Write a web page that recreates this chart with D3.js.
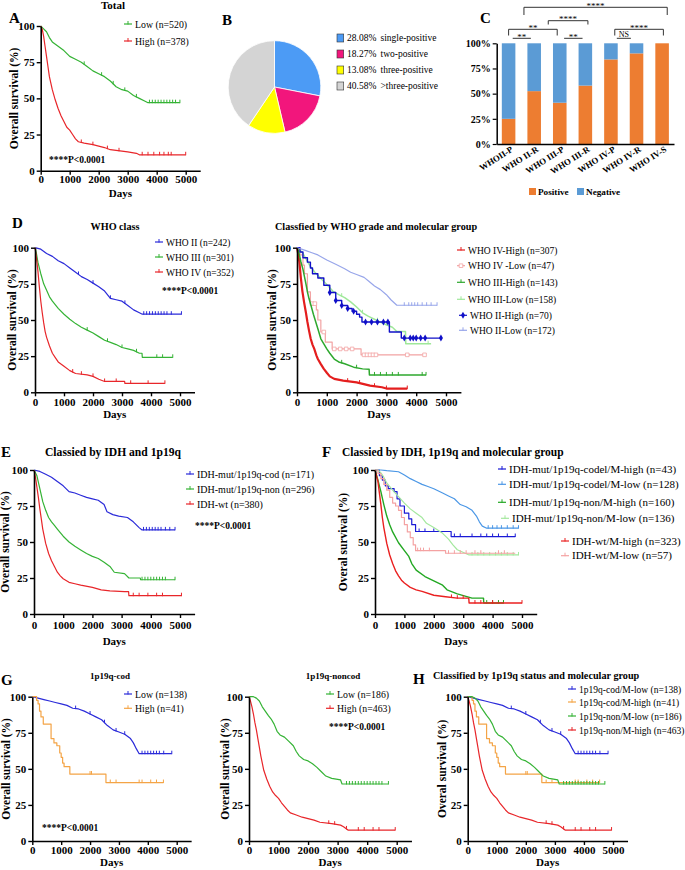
<!DOCTYPE html>
<html><head><meta charset="utf-8">
<script src="https://cdn.jsdelivr.net/npm/d3@7/dist/d3.min.js"></script>
<style>
html,body{margin:0;padding:0;background:#fff;}
svg{display:block;}
text{font-family:"Liberation Serif","Times New Roman",Times,serif;}
</style></head><body>
<svg id="fig" width="685" height="870" xmlns="http://www.w3.org/2000/svg"></svg>
<script>
// ================= DATA =================
const dayTicks=[0,1000,2000,3000,4000,5000];
const survTicks=[0,25,50,75,100];

// ---- A: Total ----
const A_low=[[0,100],[100,98],[200,96],[300,92],[400,89],[600,86],[800,83],[1000,79],[1200,77],[1400,75],[1600,72],[1800,69],[2000,67],[2200,65],[2400,62],[2600,58],[2800,56],[3000,55],[3200,52],[3400,50],[3600,48],[3700,47],[4800,47]];
const A_high=[[0,100],[50,98],[100,93],[150,86],[200,79],[250,72],[300,65],[400,56],[500,49],[600,43],[700,38],[800,34],[900,30],[1000,28],[1100,25],[1200,22],[1300,20],[1500,19],[1800,18],[2000,17],[2200,16],[2400,14.5],[2600,14],[3000,13],[3300,12],[3400,11],[5000,11]];
const A_low_cens=[1500,2100,2500,2900,3300,3750,3850,3950,4050,4150,4250,4350,4450,4550,4650,4800];
const A_high_cens=[1400,1800,2300,2700,3500,3700,3900,4100,4250,4400,4500,5000];

// ---- B: pie ----
const pieNames=['single-positive','two-positive','three-positive','>three-positive'];
const pieValues=[28.08,18.27,13.08,40.58];

// ---- C: stacked bars ----
const barCats=['WHOII-P','WHO II-R','WHO III-P','WHO III-R','WHO IV-P','WHO IV-R','WHO IV-S'];
const barPositive=[25,52.5,41,58,84,90,100];
const barNegative=[75,47.5,59,42,16,10,0];
const barTicks=[0,25,50,75,100];
const C_brackets=[
  {from:0.6,to:6.2,label:'****',row:0,drop:true},
  {from:1.55,to:3.1,label:'****',row:1,drop:true},
  {from:0,to:1.9,label:'**',row:2,drop:true},
  {from:4.15,to:6.05,label:'****',row:2,drop:true},
  {from:0.16,to:0.87,label:'**',row:3,drop:false},
  {from:2.17,to:2.89,label:'**',row:3,drop:false},
  {from:4.23,to:4.78,label:'NS',row:3,drop:false}
];

// ---- D left: WHO class ----
const D_II=[[0,100],[200,99],[400,96],[600,94],[800,91],[1000,89],[1200,86],[1400,83],[1600,80],[1800,78],[2000,75.5],[2200,73],[2400,70],[2600,65],[2800,64],[3000,63],[3200,60],[3400,57],[3600,55],[3700,54],[5050,54]];
const D_III=[[0,100],[50,96],[100,90],[200,82],[300,75],[400,70.5],[500,66],[600,63],[800,58],[1000,54],[1200,50.5],[1400,47.5],[1600,45],[1800,43],[2000,41],[2200,38.5],[2400,36],[2600,34.5],[2800,33],[3000,31],[3200,30],[3400,29],[3600,27],[3690,27],[3700,24.2],[4750,24.2]];
const D_IV=[[0,100],[50,93],[100,84],[150,73],[200,63],[250,55],[300,48],[350,42],[400,38],[500,32],[600,27],[700,24],[800,21],[1000,18],[1200,15],[1400,13],[1800,12],[2000,11],[2200,9],[2400,7.5],[3090,7.5],[3100,6.2],[4480,6.2]];
const D_II_cens=[1500,2000,2600,3100,3750,3850,3950,4050,4150,4250,4350,4450,4550,4700,5050];
const D_III_cens=[1800,2500,3000,3500,4200,4400,4750];
const D_IV_cens=[1300,1600,2000,2400,2800,3300,3900,4480];

// ---- D right: WHO grade x molecular group ----
const DR_IVH=[[0,100],[40,96],[80,90],[130,79],[180,70],[240,62],[300,55],[350,48.6],[400,43],[460,37],[520,33],[580,30],[650,25.5],[700,23],[800,19.5],[900,16.2],[1000,13.5],[1100,11],[1250,9.3],[1550,8.1],[2000,6.9],[2450,4.6],[2850,3.5],[3000,2.6],[3700,2.6]];
const DR_IVL=[[0,100],[100,95],[200,88],[250,82],[350,69.4],[450,61.3],[650,57],[700,50],[800,41.7],[950,34.7],[1180,30],[2150,25.9],[4280,25.9]];
const DR_IIIH=[[0,100],[60,97],[130,90.3],[200,85],[250,80],[300,75],[350,69.4],[400,65],[470,60],[550,54],[630,48.6],[700,44],[800,37],[900,33.5],[1000,30],[1100,27],[1250,23],[1400,21],[1600,19.7],[1900,17.4],[2200,16.2],[2420,16],[2430,12],[4330,12]];
const DR_IIIL=[[0,100],[100,98.5],[200,96],[350,90.5],[450,87],[600,83],[800,78.7],[1000,74.5],[1200,70],[1400,67.5],[1600,65.5],[1800,62.5],[2000,59],[2200,55],[2400,52.5],[2600,50.5],[2900,47.5],[3200,45],[3350,42],[3640,42],[3650,33.6],[4500,33.6]];
const DR_IIH=[[0,100],[100,97],[200,93],[350,90],[450,86],[520,82],[700,79],[900,74],[1100,69],[1300,63.5],[1500,60],[1700,58],[1850,56],[2000,54],[2100,52],[2180,48.6],[3100,41.7],[3500,37.5],[4830,37.5]];
const DR_IIL=[[0,100],[150,99],[300,98],[500,96.5],[700,95],[1000,91.5],[1300,88.5],[1600,85.5],[1800,83],[2000,81.5],[2250,79.5],[2400,77],[2600,73.5],[2800,71],[3000,67.5],[3150,64],[3350,60.2],[4700,60.2]];
const DR_IVH_cens=[1700,2100,2600,3000,3700];
const DR_IVL_cens=[500,600,900,1250,1450,1650,1850,2250,2350,2450,2550,2650,3700,4280];
const DR_IIIH_cens=[1500,2000,2600,2800,3000,3200,3400,4200,4330];
const DR_IIIL_cens=[1500,2200,2700,3000,4400];
const DR_IIH_cens=[1100,1300,1500,1700,1900,2300,2500,2700,2900,3050,3600,3800,3900,4000,4150,4300,4830];
const DR_IIL_cens=[3600,3750,3850,3950,4050,4200,4350,4500,4700];

// ---- E: IDH and 1p19q ----
const E_cod=[[0,100],[200,99],[400,97],[600,95],[800,92],[1000,89],[1200,85],[1400,84],[1600,82.5],[1800,81],[2000,80],[2200,79],[2400,76],[2500,71],[2700,69],[2900,68],[3200,67],[3400,64],[3600,60],[3700,58.4],[4830,58.4]];
const E_non=[[0,100],[100,96],[200,87],[300,78],[400,72],[500,67],[600,64],[700,61.5],[800,59],[1000,54],[1200,50],[1400,47],[1600,44.5],[1800,42],[2000,40],[2200,38.5],[2400,36],[2600,33],[2750,29],[3100,28],[3250,25],[3640,25],[3650,23.8],[4830,23.8]];
const E_wt=[[0,100],[50,95],[100,88],[150,81],[200,73],[250,66],[300,59],[400,49],[500,42],[600,37],[700,33],[800,29],[900,26.5],[1000,24.5],[1200,22],[1400,21],[1600,20],[2000,18.5],[2300,16.8],[2600,16],[3100,15.5],[3240,15.5],[3250,12.7],[5050,12.7]];
const E_cod_cens=[3750,3850,3950,4050,4150,4250,4350,4500,4650,4830];
const E_non_cens=[3700,3800,3900,4000,4100,4200,4300,4400,4500,4830];
const E_wt_cens=[3400,3600,3900,4200,4400,5050];

// ---- F: IDH, 1p19q and molecular group ----
const F_codH=[[0,100],[150,96],[250,93],[350,89],[450,87],[650,85],[750,80],[850,75],[1000,70],[1150,66],[1250,62],[1380,57.3],[2590,53.8],[4770,53.8]];
const F_codL=[[0,100],[200,100],[400,99.5],[800,98.8],[1000,96.5],[1200,94],[1400,92],[1600,90],[1800,88.5],[2000,87],[2300,84],[2500,82],[2700,80],[2900,76],[3100,74.5],[3300,72],[3450,68],[3550,64],[3650,61],[3800,59.6],[4880,59.6]];
const F_nonH=[[0,100],[100,93],[200,85],[300,76],[400,68],[500,62],[600,57],[800,49.5],[1000,44],[1150,40],[1250,35],[1400,30.5],[1700,26],[2000,23],[2300,20],[2450,16.8],[2800,14],[3300,11],[3690,11],[3700,7.6],[4370,7.6]];
const F_nonL=[[0,100],[100,100],[200,98],[300,95],[400,91],[600,86],[800,81.5],[1000,77],[1200,73],[1400,70],[1600,67],[1750,63],[2000,60],[2300,56],[2500,52],[2650,48],[2800,44.6],[3200,41],[4880,41]];
const F_wtH=[[0,100],[50,96],[100,92],[150,84],[200,76],[250,67],[300,60],[400,49],[500,41],[600,35],[700,30],[800,26.5],[900,23.5],[1000,21.5],[1200,18.5],[1400,16.8],[1600,15.7],[2000,13],[2400,12],[2800,11],[3190,11],[3200,7.6],[5000,7.6]];
const F_wtL=[[0,100],[100,97.5],[200,94],[300,90],[400,86],[500,81],[600,77],[700,75],[800,72],[900,67],[1000,62],[1100,57],[1200,53],[1300,48],[1380,44],[2400,42.2],[4770,42.2]];
const F_codH_cens=[1500,1700,2000,2700,2900,3300,3600,3800,4000,4200,4500,4770];
const F_codL_cens=[3850,4000,4150,4300,4500,4700,4880];
const F_nonH_cens=[3800,4000,4200,4370];
const F_nonL_cens=[3300,3500,3700,3900,4100,4300,4500,4700,4880];
const F_wtH_cens=[2600,2800,3000,3400,3600,4000,5000];
const F_wtL_cens=[1450,1550,1650,1850,2500,2700,2900,3100,3400,3600,4200,4400];

// ---- G / H: 1p19q status and molecular group ----
const G_codLow=[[0,100],[200,99],[400,98],[600,97],[800,96],[1000,95],[1200,94],[1400,92],[1600,91.5],[1800,90],[2000,88],[2200,86],[2400,84],[2600,80],[2800,77],[3000,75.5],[3200,74],[3400,71],[3500,68],[3600,64],[3700,60.5],[4830,60.5]];
const G_codHigh=[[0,100],[150,97.5],[200,95],[250,90],[300,86],[380,81],[650,71],[750,68],[850,66],[950,61],[1000,58],[1050,54],[1100,51.5],[1300,46.4],[2550,40.5],[4540,40.5]];
const G_nonLow=[[0,100],[150,100],[250,99],[350,97],[450,93],[550,90],[650,87],[750,84.5],[850,81],[950,76],[1050,73.5],[1200,72],[1350,69],[1500,66],[1600,62],[1700,59],[1850,56.5],[2000,55.5],[2150,53.5],[2300,51],[2450,48],[2600,45],[2800,43.4],[3100,42.3],[3150,39.5],[4720,39.5]];
const G_nonHigh=[[0,100],[50,97],[100,93],[150,88],[200,82],[250,77],[300,71],[350,65],[400,59],[450,54],[500,49],[600,43],[700,38],[800,34],[900,31.5],[1000,29.5],[1100,26.5],[1200,24],[1300,21.5],[1400,19.5],[1600,18],[1800,16.5],[2000,15.5],[2200,14.5],[2400,13],[2800,12],[3100,11],[3200,9.9],[3350,7.6],[4950,7.6]];
const G_codLow_cens=[1500,2000,2500,2900,3200,3800,3900,4000,4100,4200,4300,4400,4550,4830];
const G_codHigh_cens=[2000,2050,2700,2900,3700,3800,4100,4300,4540];
const G_nonLow_cens=[3300,3400,3500,3600,3700,3800,3900,4000,4100,4200,4300,4400,4500,4720];
const G_nonHigh_cens=[2700,2900,3300,3700,3900,4200,4400,4950];

// ================= DRAWING =================
const FONT='"Liberation Serif","Times New Roman",Times,serif';
const svg=d3.select('#fig');
const GREEN='#35b335', RED='#e8262a', BLUE='#2b2bd9', ORANGE='#f4a446';

function txt(x,y,s,o={}){
  const t=svg.append('text').attr('x',x).attr('y',y).text(s)
    .attr('font-family',FONT).attr('font-size',o.size||10)
    .attr('font-weight',o.bold?'bold':'normal')
    .attr('text-anchor',o.anchor||'start').attr('fill',o.fill||'#000');
  if(o.rotate!=null) t.attr('transform',`rotate(${o.rotate},${x},${y})`);
  return t;
}
function survAt(data,t,step){
  if(step){let s=data[0][1];for(const p of data){if(p[0]<=t)s=p[1];}return s;}
  for(let i=1;i<data.length;i++){
    if(t<=data[i][0]){const a=data[i-1],b=data[i];return a[1]+(b[1]-a[1])*(t-a[0])/(b[0]-a[0]);}
  }
  return data[data.length-1][1];
}
function mark(g,type,cx,cy,color){
  if(type==='diamond'){
    g.append('path').attr('d',d3.symbol(d3.symbolDiamond,14)()).attr('transform',`translate(${cx},${cy})`).attr('fill',color);
  } else if(type==='square'){
    g.append('path').attr('d',d3.symbol(d3.symbolSquare,13)()).attr('transform',`translate(${cx},${cy})`).attr('fill','#fff').attr('stroke',color).attr('stroke-width',0.8);
  } else {
    g.append('line').attr('x1',cx).attr('x2',cx).attr('y1',cy-3).attr('y2',cy+0.5).attr('stroke',color).attr('stroke-width',1);
  }
}

function drawKM(p){
  const xr=p.x0+(p.x5-p.x0)*1.1;
  const x=d3.scaleLinear().domain([0,5500]).range([p.x0,xr]);
  const y=d3.scaleLinear().domain([0,100]).range([p.yb,p.yt]);
  const g=svg.append('g');
  p.series.forEach(s=>{
    const line=d3.line().x(d=>x(d[0])).y(d=>y(d[1])).curve(s.step?d3.curveStepAfter:d3.curveLinear);
    g.append('path').datum(s.data).attr('fill','none').attr('stroke',s.color)
      .attr('stroke-width',s.w||1.2).attr('stroke-linejoin','round').attr('d',line);
    const cg=g.append('g');
    (s.cens||[]).forEach(c=>mark(cg,s.mark||'tick',x(c),y(survAt(s.data,c,s.step)),s.color));
  });
  const ax=g.append('g').attr('transform',`translate(0,${p.yb})`)
    .call(d3.axisBottom(x).tickValues(dayTicks).tickSize(4).tickSizeOuter(0).tickFormat(d3.format('d')));
  const ay=g.append('g').attr('transform',`translate(${p.x0},0)`)
    .call(d3.axisLeft(y).tickValues(survTicks).tickSize(4).tickSizeOuter(0));
  [ax,ay].forEach(a=>{
    a.select('.domain').attr('stroke','#000').attr('stroke-width',1.6);
    a.selectAll('.tick line').attr('stroke','#000').attr('stroke-width',1.4);
    a.selectAll('text').attr('font-family',FONT).attr('font-size',11).attr('font-weight','bold').attr('fill','#000');
  });
  ax.selectAll('text').attr('dy',null).attr('y',p.tOff);
  ay.selectAll('text').attr('x',-6);
  txt((p.x0+xr)/2,p.yb+p.dOff,'Days',{anchor:'middle',bold:true,size:11});
  txt(p.ylx,(p.yt+p.yb)/2,p.ylab,{anchor:'middle',bold:true,size:11.5,rotate:-90});
  txt(p.titleX,p.titleY,p.title,{anchor:p.titleAnchor,bold:true,size:p.titleSize});
  if(p.letter) txt(p.lx,p.ly,p.letter,{bold:true,size:15});
  if(p.pv) txt(p.pvx,p.pvy,'****P<0.0001',{bold:true,size:9.5});
  // legend
  p.series.forEach((s,i)=>{
    const lx=s.legX!=null?s.legX:p.legX, ly=p.legY[i];
    const lg=svg.append('g');
    lg.append('line').attr('x1',lx).attr('x2',lx+8).attr('y1',ly).attr('y2',ly).attr('stroke',s.color).attr('stroke-width',1.2);
    mark(lg,s.mark||'tick',lx+4,ly,s.color);
    txt(lx+11,ly+3.5,s.name,{size:p.legSize});
  });
}

// ---- KM panels ----
const kmPanels=[
 {x0:40.7,x5:185.7,yt:26,yb:170.7,tOff:12.5,dOff:26,ylx:18.5,ylab:'Overall survival (%)',
  title:'Total',titleX:113,titleY:8.5,titleAnchor:'middle',titleSize:11,letter:'A',lx:9,ly:23,
  pv:true,pvx:49,pvy:162.5,legX:124,legY:[24,41],legSize:9.8,
  series:[{name:'Low (n=520)',data:A_low,cens:A_low_cens,color:GREEN},
          {name:'High (n=378)',data:A_high,cens:A_high_cens,color:RED}]},
 {x0:35,x5:180,yt:247.7,yb:392.3,tOff:13.5,dOff:26,ylx:15.5,ylab:'Overall survival (%)',
  title:'WHO class',titleX:115,titleY:229.5,titleAnchor:'middle',titleSize:10.2,letter:'D',lx:12,ly:228,
  pv:true,pvx:162,pvy:293.5,legX:155,legY:[242,257,272],legSize:9.5,
  series:[{name:'WHO II (n=242)',data:D_II,cens:D_II_cens,color:BLUE},
          {name:'WHO III (n=301)',data:D_III,cens:D_III_cens,color:GREEN},
          {name:'WHO IV (n=352)',data:D_IV,cens:D_IV_cens,color:RED}]},
 {x0:297,x5:446,yt:247.7,yb:392.3,tOff:13.5,dOff:26,ylx:275.5,ylab:'Overall survival (%)',
  title:'Classfied by WHO grade and molecular group',titleX:275,titleY:229.5,titleAnchor:'start',titleSize:10.2,
  pv:false,legX:457,legY:[250,265.7,282.3,299.3,315.3,330.3],legSize:9.5,
  series:[{name:'WHO IV-High (n=307)',data:DR_IVH,cens:DR_IVH_cens,color:'#e41e1e',w:2.2},
          {name:'WHO IV -Low (n=47)',data:DR_IVL,cens:DR_IVL_cens,color:'#f2a3a3',mark:'square',step:true},
          {name:'WHO III-High (n=143)',data:DR_IIIH,cens:DR_IIIH_cens,color:'#2ea82e',w:1.5},
          {name:'WHO III-Low (n=158)',data:DR_IIIL,cens:DR_IIIL_cens,color:'#9fe89a',w:1.5},
          {name:'WHO II-High (n=70)',data:DR_IIH,cens:DR_IIH_cens,color:'#1010c8',mark:'diamond',w:1.4,step:true,legX:459},
          {name:'WHO II-Low (n=172)',data:DR_IIL,cens:DR_IIL_cens,color:'#98a6ea',legX:459}]},
 {x0:34,x5:180,yt:470,yb:614,tOff:15,dOff:31,ylx:9,ylab:'Overall survival (%)',
  title:'Classied by IDH and 1p19q',titleX:45,titleY:456,titleAnchor:'start',titleSize:11.6,letter:'E',lx:1,ly:457,
  pv:true,pvx:195,pvy:528.5,legX:186,legY:[474,489,504],legSize:10,
  series:[{name:'IDH-mut/1p19q-cod (n=171)',data:E_cod,cens:E_cod_cens,color:BLUE},
          {name:'IDH-mut/1p19q-non (n=296)',data:E_non,cens:E_non_cens,color:GREEN},
          {name:'IDH-wt (n=380)',data:E_wt,cens:E_wt_cens,color:RED}]},
 {x0:375,x5:522,yt:470,yb:614,tOff:15,dOff:31,ylx:347,ylab:'Overal survival (%)',
  title:'Classied by IDH, 1p19q and molecular group',titleX:342,titleY:456,titleAnchor:'start',titleSize:11.5,letter:'F',lx:322,ly:457,
  pv:false,legX:498,legY:[469,484.3,502.3,518.3,541,555.7],legSize:11,
  series:[{name:'IDH-mut/1p19q-codel/M-high (n=43)',data:F_codH,cens:F_codH_cens,color:'#1a1ad6',step:true},
          {name:'IDH-mut/1p19q-codel/M-low (n=128)',data:F_codL,cens:F_codL_cens,color:'#4b97e6'},
          {name:'IDH-mut/1p19q-non/M-high (n=160)',data:F_nonH,cens:F_nonH_cens,color:'#23a823',w:1.4},
          {name:'IDH-mut/1p19q-non/M-low (n=136)',data:F_nonL,cens:F_nonL_cens,color:'#a4e89e',legX:501},
          {name:'IDH-wt/M-high (n=323)',data:F_wtH,cens:F_wtH_cens,color:'#ea2020',w:1.4,legX:561},
          {name:'IDH-wt/M-low (n=57)',data:F_wtL,cens:F_wtL_cens,color:'#f4a2a2',step:true,legX:561}]},
 {x0:32.3,x5:176.7,yt:696.7,yb:841,tOff:13,dOff:25,ylx:10,ylab:'Overall survival (%)',
  title:'1p19q-cod',titleX:110,titleY:678.5,titleAnchor:'middle',titleSize:9,letter:'G',lx:1,ly:685,
  pv:true,pvx:42,pvy:830.5,legX:124,legY:[694,708.3],legSize:9.8,
  series:[{name:'Low (n=138)',data:G_codLow,cens:G_codLow_cens,color:BLUE},
          {name:'High (n=41)',data:G_codHigh,cens:G_codHigh_cens,color:ORANGE,step:true}]},
 {x0:249,x5:396.7,yt:696.7,yb:841,tOff:13,dOff:25,ylx:229,ylab:'Overall survival (%)',
  title:'1p19q-noncod',titleX:333,titleY:678.5,titleAnchor:'middle',titleSize:9,
  pv:true,pvx:329,pvy:729.5,legX:326,legY:[694,708.3],legSize:9.8,
  series:[{name:'Low (n=186)',data:G_nonLow,cens:G_nonLow_cens,color:GREEN},
          {name:'High (n=463)',data:G_nonHigh,cens:G_nonHigh_cens,color:RED}]},
 {x0:467.7,x5:613,yt:696.7,yb:841,tOff:13,dOff:25,ylx:446,ylab:'Overal survival (%)',
  title:'Classified by 1p19q status and molecular group',titleX:433,titleY:679,titleAnchor:'start',titleSize:10.2,letter:'H',lx:413,ly:684,
  pv:false,legX:568,legY:[689,702,716,730],legSize:9.5,
  series:[{name:'1p19q-cod/M-low (n=138)',data:G_codLow,cens:G_codLow_cens,color:BLUE},
          {name:'1p19q-cod/M-high (n=41)',data:G_codHigh,cens:G_codHigh_cens,color:ORANGE,step:true},
          {name:'1p19q-non/M-low (n=186)',data:G_nonLow,cens:G_nonLow_cens,color:GREEN},
          {name:'1p19q-non/M-high (n=463)',data:G_nonHigh,cens:G_nonHigh_cens,color:RED}]}
];
kmPanels.forEach(drawKM);

// ---- B: pie ----
(function(){
  const colors=['#4c9bf5','#f2167c','#ffff00','#d4d4d4'];
  const arcs=d3.pie().sort(null).value(d=>d)(pieValues);
  const arc=d3.arc().innerRadius(0).outerRadius(46.3);
  svg.append('g').attr('transform','translate(274.5,87)')
    .selectAll('path').data(arcs).join('path').attr('d',arc)
    .attr('fill',(d,i)=>colors[i]).attr('stroke','#fff').attr('stroke-width',0.8);
  txt(222,25,'B',{bold:true,size:15});
  const rows=[38,54,70,86];
  pieValues.forEach((v,i)=>{
    svg.append('rect').attr('x',337).attr('y',rows[i]-4).attr('width',6.7).attr('height',8)
      .attr('fill',colors[i]).attr('stroke','#333').attr('stroke-width',0.6);
    txt(347,rows[i]+3.3,v.toFixed(2)+'%',{size:9.5});
    txt(380.5,rows[i]+3.3,pieNames[i],{size:9.5});
  });
})();

// ---- C: stacked bars ----
(function(){
  const POS='#ed7d31', NEG='#5b9bd5';
  const x=d3.scaleBand().domain(barCats).range([496.7,674]).paddingInner(0.47).paddingOuter(0.2);
  const y=d3.scaleLinear().domain([0,100]).range([144,43.3]);
  const g=svg.append('g');
  g.selectAll('rect.pos').data(barCats).join('rect').attr('class','pos')
    .attr('x',d=>x(d)).attr('width',x.bandwidth())
    .attr('y',(d,i)=>y(barPositive[i])).attr('height',(d,i)=>y(0)-y(barPositive[i])).attr('fill',POS);
  g.selectAll('rect.neg').data(barCats).join('rect').attr('class','neg')
    .attr('x',d=>x(d)).attr('width',x.bandwidth())
    .attr('y',(d,i)=>y(barPositive[i]+barNegative[i])).attr('height',(d,i)=>y(barPositive[i])-y(barPositive[i]+barNegative[i])).attr('fill',NEG);
  const ay=g.append('g').attr('transform','translate(496.7,0)')
    .call(d3.axisLeft(y).tickValues(barTicks).tickSize(4).tickSizeOuter(0).tickFormat(d=>d+'%'));
  const ax=g.append('g').attr('transform','translate(0,144)')
    .call(d3.axisBottom(x).tickSize(0).tickSizeOuter(0));
  [ax,ay].forEach(a=>{
    a.select('.domain').attr('stroke','#000').attr('stroke-width',1.5);
    a.selectAll('.tick line').attr('stroke','#000').attr('stroke-width',1.2);
    a.selectAll('text').attr('font-family',FONT).attr('font-weight','bold').attr('fill','#000');
  });
  ay.selectAll('text').attr('font-size',10).attr('x',-6);
  ax.selectAll('text').attr('font-size',8.8).attr('text-anchor','end').attr('dy',null)
    .attr('x',5).attr('y',7).attr('transform','rotate(-32,5,7)');
  // significance brackets
  const cx=idx=>x(barCats[0])+x.bandwidth()/2+idx*x.step();
  const lineY=[7.3,20.7,29.3,38.3], dropY=[15,24.5,35.5,38.3];
  C_brackets.forEach(b=>{
    const x1=cx(b.from), x2=cx(b.to), ly=lineY[b.row];
    const path=b.drop?`M${x1},${dropY[b.row]}V${ly}H${x2}V${dropY[b.row]}`:`M${x1},${ly}H${x2}`;
    g.append('path').attr('d',path).attr('fill','none').attr('stroke','#333').attr('stroke-width',1);
    const isNS=b.label==='NS';
    txt((x1+x2)/2,isNS?ly-1.8:ly+1.2,b.label,{anchor:'middle',size:isNS?8:9});
  });
  txt(480,23,'C',{bold:true,size:15});
  // legend
  g.append('rect').attr('x',529).attr('y',188).attr('width',7).attr('height',7).attr('fill',POS);
  txt(538,195,'Positive',{bold:true,size:9.2});
  g.append('rect').attr('x',577).attr('y',188).attr('width',7).attr('height',7).attr('fill',NEG);
  txt(586,195,'Negative',{bold:true,size:9.2});
})();
</script>
</body></html>
